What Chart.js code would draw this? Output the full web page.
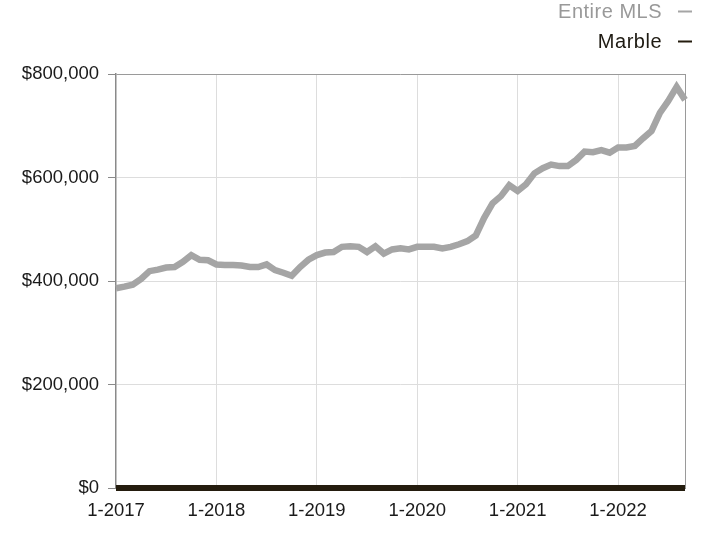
<!DOCTYPE html>
<html>
<head>
<meta charset="utf-8">
<script src="https://cdn.jsdelivr.net/npm/chart.js@4.4.0/dist/chart.umd.min.js"></script>
<style>
  html, body { margin: 0; padding: 0; background: #ffffff; }
  #wrap { width: 705px; height: 536px; position: relative; }
</style>
</head>
<body>
<div id="wrap"><canvas id="c" width="705" height="536"></canvas></div>
<script>
const months = [
  "1-2017","2-2017","3-2017","4-2017","5-2017","6-2017","7-2017","8-2017","9-2017","10-2017","11-2017","12-2017",
  "1-2018","2-2018","3-2018","4-2018","5-2018","6-2018","7-2018","8-2018","9-2018","10-2018","11-2018","12-2018",
  "1-2019","2-2019","3-2019","4-2019","5-2019","6-2019","7-2019","8-2019","9-2019","10-2019","11-2019","12-2019",
  "1-2020","2-2020","3-2020","4-2020","5-2020","6-2020","7-2020","8-2020","9-2020","10-2020","11-2020","12-2020",
  "1-2021","2-2021","3-2021","4-2021","5-2021","6-2021","7-2021","8-2021","9-2021","10-2021","11-2021","12-2021",
  "1-2022","2-2022","3-2022","4-2022","5-2022","6-2022","7-2022","8-2022","9-2022"
];

const entireMLS = [
  386000, 389000, 393000, 404000, 419000, 422000, 426000, 427000, 437000, 450000, 441000, 440000,
  432000, 431000, 431000, 430000, 427000, 427000, 432000, 421000, 416000, 410000, 427000, 441000,
  450000, 455000, 456000, 466000, 467000, 466000, 456000, 467000, 453000, 461000, 463000, 461000,
  466000, 466000, 466000, 463000, 466000, 471000, 477000, 488000, 522000, 550000, 564000, 585000,
  574000, 587000, 608000, 618000, 625000, 622000, 622000, 634000, 650000, 649000, 653000, 648000,
  658000, 658000, 661000, 676000, 690000, 725000, 748000, 775000, 750000
];

const marble = [
  0, 0, 0, 0, 0, 0, 0, 0, 0, 0, 0, 0,
  0, 0, 0, 0, 0, 0, 0, 0, 0, 0, 0, 0,
  0, 0, 0, 0, 0, 0, 0, 0, 0, 0, 0, 0,
  0, 0, 0, 0, 0, 0, 0, 0, 0, 0, 0, 0,
  0, 0, 0, 0, 0, 0, 0, 0, 0, 0, 0, 0,
  0, 0, 0, 0, 0, 0, 0, 0, 0
];

const seriesNames = ["Entire MLS", "Marble"];
const yTicks = [0, 200000, 400000, 600000, 800000];

const FONT = '"Liberation Sans", Arial, Helvetica, sans-serif';
const legendTextColors = ["#999999", "#1e1a12"];

const legendPlugin = {
  id: 'customLegend',
  afterDraw(chart) {
    const ctx = chart.ctx;
    ctx.save();
    ctx.font = '20px ' + FONT;
    try { ctx.letterSpacing = '0.5px'; } catch (e) {}
    ctx.textAlign = 'right';
    ctx.textBaseline = 'alphabetic';
    const baselines = [18, 48];
    chart.data.datasets.forEach((ds, i) => {
      const y = baselines[i];
      ctx.fillStyle = legendTextColors[i];
      ctx.fillText(ds.label, 662, y);
      ctx.strokeStyle = ds.borderColor;
      ctx.lineWidth = 2;
      ctx.beginPath();
      ctx.moveTo(678, y - 6.5);
      ctx.lineTo(692, y - 6.5);
      ctx.stroke();
    });
    ctx.restore();
  }
};

const lastIdx = months.length - 1;

new Chart(document.getElementById('c'), {
  type: 'line',
  data: {
    labels: months,
    datasets: [
      {
        label: seriesNames[0],
        data: entireMLS,
        borderColor: '#a5a5a5',
        backgroundColor: '#a5a5a5',
        borderWidth: 6.5,
        pointRadius: 0,
        tension: 0,
        clip: false,
        order: 2
      },
      {
        label: seriesNames[1],
        data: marble,
        borderColor: '#241c0e',
        backgroundColor: '#241c0e',
        borderWidth: 6,
        pointRadius: 0,
        tension: 0,
        clip: false,
        order: 1
      }
    ]
  },
  options: {
    responsive: false,
    animation: false,
    devicePixelRatio: 1,
    layout: { padding: { top: 74, right: 20, left: 0, bottom: 0 } },
    plugins: {
      legend: { display: false },
      tooltip: { enabled: false }
    },
    scales: {
      x: {
        type: 'category',
        offset: false,
        border: { display: true, color: '#888888', width: 1 },
        grid: {
          drawTicks: false,
          color: (c) => {
            const i = c.index;
            if (i === lastIdx) return '#9a9a9a';
            if (i === 0) return 'rgba(0,0,0,0)';
            return months[i] && months[i].startsWith('1-') ? '#dddddd' : 'rgba(0,0,0,0)';
          },
          lineWidth: 1
        },
        ticks: {
          autoSkip: false,
          maxRotation: 0,
          minRotation: 0,
          padding: 12,
          color: '#1a1a1a',
          font: { family: FONT, size: 18.5 },
          callback: function (v, i) {
            const l = months[i];
            return l.startsWith('1-') ? l : '';
          }
        },
        afterFit: (s) => { s.height = 48; }
      },
      y: {
        min: 0,
        max: 800000,
        border: { display: true, color: '#8a8a8a', width: 1.5 },
        grid: {
          color: (c) => c.tick && c.tick.value === 800000 ? '#9a9a9a' : '#dddddd',
          tickColor: '#8a8a8a',
          tickLength: 8,
          lineWidth: 1
        },
        afterBuildTicks: (s) => { s.ticks = yTicks.map(v => ({ value: v })); },
        ticks: {
          padding: 9,
          color: '#1a1a1a',
          font: { family: FONT, size: 18.5 },
          callback: (v) => '$' + Number(v).toLocaleString('en-US')
        },
        afterFit: (s) => { s.width = 116; }
      }
    }
  },
  plugins: [legendPlugin]
});
</script>
</body>
</html>
